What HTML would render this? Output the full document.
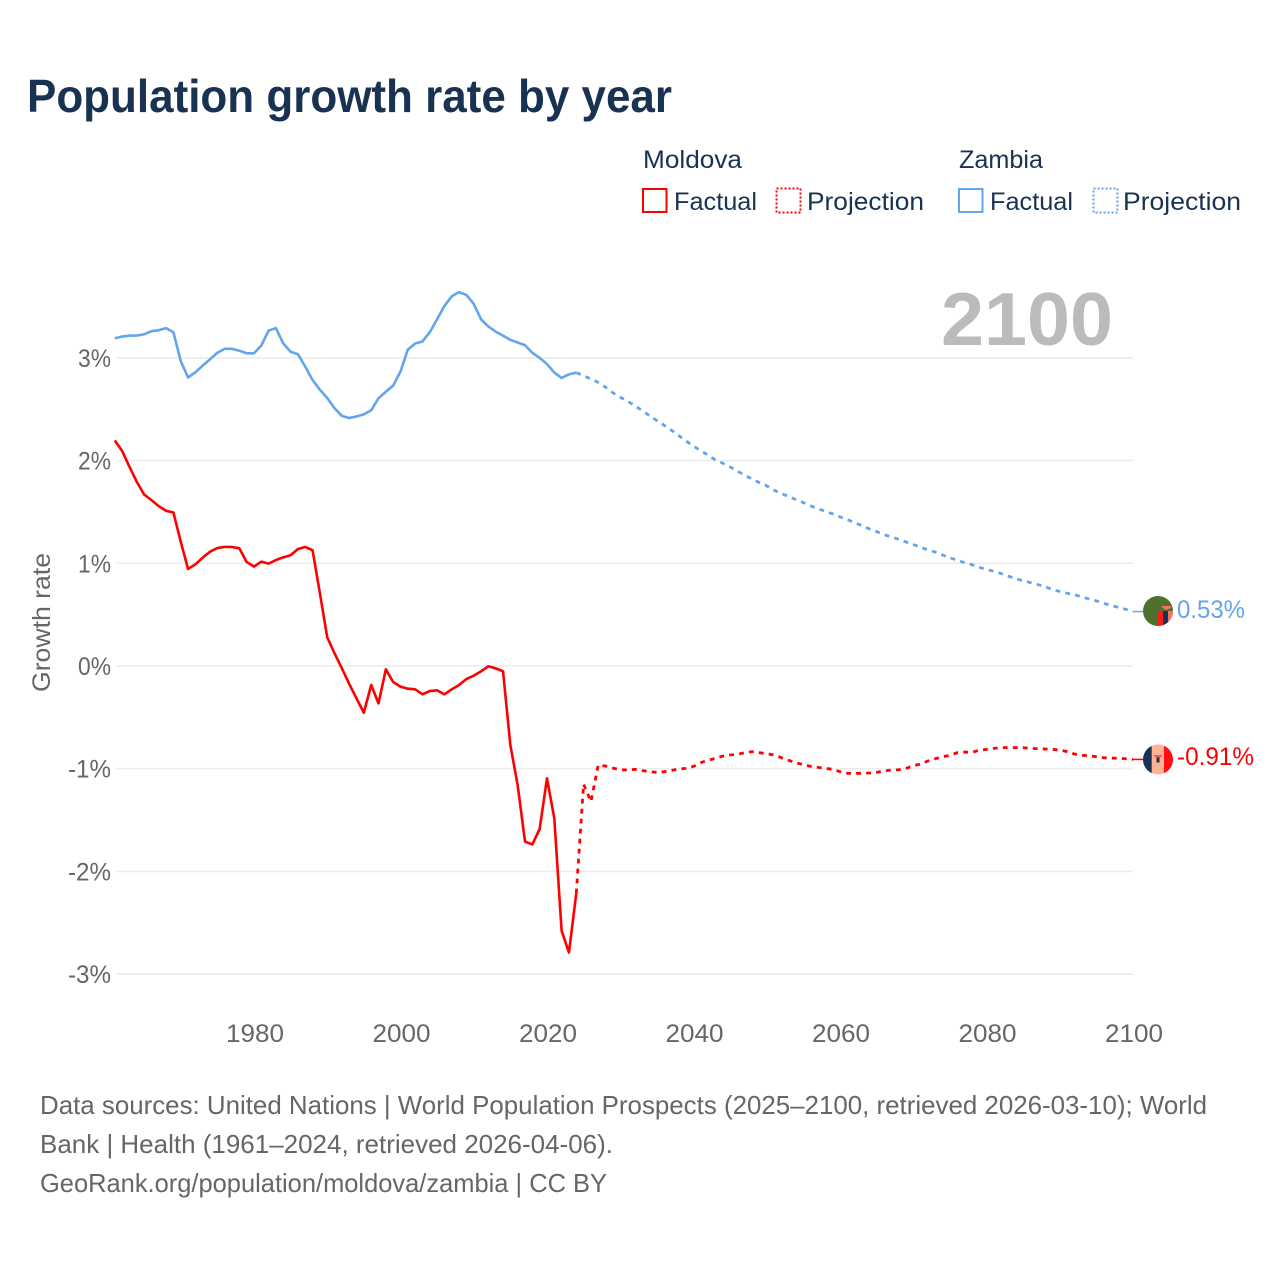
<!DOCTYPE html>
<html lang="en">
<head>
<meta charset="utf-8">
<title>Population growth rate by year</title>
<style>
html,body{margin:0;padding:0;background:#fff;}
svg{display:block;}
text{font-family:"Liberation Sans",sans-serif;}
</style>
</head>
<body>
<svg id="chart" xmlns="http://www.w3.org/2000/svg" width="1280" height="1280" viewBox="0 0 1280 1280">
  <defs>
    <clipPath id="clip-zambia"><circle cx="1158" cy="611" r="15"/></clipPath>
    <clipPath id="clip-moldova"><circle cx="1158" cy="759.5" r="15"/></clipPath>
  </defs>
  <rect x="0" y="0" width="1280" height="1280" fill="#fff"/>
  <text x="27" y="112" font-size="46" font-weight="700" fill="#1a3252" textLength="645" lengthAdjust="spacingAndGlyphs">Population growth rate by year</text>

  <g font-size="25" fill="#1a3252">
    <text x="643" y="168" textLength="99" lengthAdjust="spacingAndGlyphs">Moldova</text>
    <text x="959" y="168" textLength="84" lengthAdjust="spacingAndGlyphs">Zambia</text>
    <g>
      <rect x="643" y="189" width="23.5" height="23" fill="none" stroke="#ff0000" stroke-width="2"/>
      <text x="674" y="210" textLength="83" lengthAdjust="spacingAndGlyphs">Factual</text>
    </g>
    <g>
      <rect x="776.5" y="188.5" width="24" height="24" fill="none" stroke="#ff0000" stroke-width="2" stroke-dasharray="2 2"/>
      <text x="807" y="210" textLength="117" lengthAdjust="spacingAndGlyphs">Projection</text>
    </g>
    <g>
      <rect x="959" y="189" width="23.5" height="23" fill="none" stroke="#63a5ec" stroke-width="2"/>
      <text x="990" y="210" textLength="83" lengthAdjust="spacingAndGlyphs">Factual</text>
    </g>
    <g>
      <rect x="1093.5" y="188.5" width="24" height="24" fill="none" stroke="#63a5ec" stroke-width="2" stroke-dasharray="2 2"/>
      <text x="1123" y="210" textLength="118" lengthAdjust="spacingAndGlyphs">Projection</text>
    </g>
  </g>

  <text x="941" y="345" font-size="75" font-weight="700" fill="#bbbbbb" textLength="172" lengthAdjust="spacingAndGlyphs">2100</text>

  <g id="grid"></g>
  <g id="y-ticks"></g>
  <g id="x-ticks"></g>
  <text transform="translate(50,622.5) rotate(-90)" text-anchor="middle" font-size="25" fill="#666666" textLength="139" lengthAdjust="spacingAndGlyphs">Growth rate</text>
  <g id="series"></g>

  <g clip-path="url(#clip-zambia)">
    <rect x="1143" y="596" width="30" height="30" fill="#4f6f2f"/>
    <rect x="1157.7" y="611" width="5.3" height="16" fill="#ff1a1a"/>
    <rect x="1163" y="611" width="5" height="16" fill="#1a3252"/>
    <rect x="1168" y="611" width="5" height="16" fill="#ff7060"/>
    <path d="M1161 606 h11 l-3.5 3.5 h-4 z" fill="#ff7060"/>
  </g>
  <g clip-path="url(#clip-moldova)">
    <rect x="1143" y="744" width="9" height="31" fill="#1a3252"/>
    <rect x="1151.7" y="744" width="12.6" height="31" fill="#ffb394"/>
    <rect x="1164" y="744" width="9" height="31" fill="#ff0f0f"/>
    <path d="M1153 755 h10 l-3 3 h-4 z" fill="#ff5a50"/>
    <rect x="1156.5" y="757.5" width="3" height="5" fill="#1a3252"/>
  </g>
  <text id="label-zambia" x="1177" y="618" font-size="25" fill="#63a5ec" textLength="68" lengthAdjust="spacingAndGlyphs"></text>
  <text id="label-moldova" x="1177" y="765" font-size="25" fill="#ff0000" textLength="77" lengthAdjust="spacingAndGlyphs"></text>

  <g font-size="26" fill="#666666">
    <text x="40" y="1114" textLength="1167" lengthAdjust="spacingAndGlyphs">Data sources: United Nations | World Population Prospects (2025–2100, retrieved 2026-03-10); World</text>
    <text x="40" y="1153" textLength="573" lengthAdjust="spacingAndGlyphs">Bank | Health (1961–2024, retrieved 2026-04-06).</text>
    <text x="40" y="1192" textLength="567" lengthAdjust="spacingAndGlyphs">GeoRank.org/population/moldova/zambia | CC BY</text>
  </g>
</svg>
<script>
const yTicks = [3, 2, 1, 0, -1, -2, -3];
const xTicks = [1980, 2000, 2020, 2040, 2060, 2080, 2100];
const factualStartYear = 1961;
const projectionStartYear = 2024;

const moldovaFactual = [2.197,2.094,1.94,1.793,1.67,1.615,1.557,1.511,1.495,1.21,0.945,0.99,1.055,1.113,1.149,1.159,1.159,1.146,1.013,0.968,1.016,0.997,1.032,1.058,1.078,1.139,1.159,1.127,0.708,0.279,0.123,-0.023,-0.175,-0.315,-0.455,-0.185,-0.364,-0.032,-0.156,-0.201,-0.221,-0.227,-0.276,-0.244,-0.237,-0.276,-0.227,-0.185,-0.127,-0.094,-0.052,-0.003,-0.023,-0.052,-0.77,-1.16,-1.71,-1.737,-1.588,-1.094,-1.484,-2.58,-2.79,-2.214];
const moldovaProjection = [-2.214,-1.15,-1.32,-0.964,-0.974,-0.994,-1.01,-1.013,-1.006,-1.019,-1.029,-1.036,-1.029,-1.016,-1.003,-0.997,-0.977,-0.942,-0.916,-0.9,-0.877,-0.867,-0.86,-0.844,-0.834,-0.844,-0.854,-0.867,-0.893,-0.919,-0.942,-0.961,-0.977,-0.987,-0.997,-1.006,-1.029,-1.045,-1.045,-1.045,-1.042,-1.036,-1.023,-1.013,-1.01,-0.997,-0.971,-0.955,-0.925,-0.903,-0.883,-0.87,-0.844,-0.838,-0.841,-0.821,-0.812,-0.802,-0.795,-0.795,-0.795,-0.795,-0.802,-0.805,-0.808,-0.812,-0.818,-0.834,-0.857,-0.87,-0.873,-0.883,-0.893,-0.896,-0.899,-0.903,-0.91];
const zambiaFactual = [3.19,3.208,3.217,3.217,3.23,3.26,3.27,3.29,3.25,2.97,2.81,2.86,2.925,2.987,3.05,3.088,3.088,3.07,3.045,3.045,3.12,3.266,3.29,3.14,3.06,3.036,2.915,2.785,2.69,2.61,2.51,2.435,2.415,2.43,2.45,2.49,2.607,2.67,2.73,2.867,3.08,3.14,3.16,3.25,3.376,3.506,3.6,3.64,3.613,3.526,3.376,3.305,3.256,3.217,3.175,3.15,3.123,3.05,3.0,2.94,2.857,2.805,2.84,2.857];
const zambiaProjection = [2.857,2.825,2.796,2.76,2.715,2.66,2.617,2.578,2.535,2.487,2.438,2.39,2.344,2.296,2.243,2.19,2.14,2.097,2.052,2.007,1.974,1.939,1.897,1.858,1.822,1.786,1.754,1.712,1.679,1.65,1.62,1.591,1.559,1.53,1.507,1.481,1.452,1.426,1.396,1.367,1.335,1.309,1.28,1.257,1.235,1.208,1.182,1.157,1.13,1.11,1.08,1.055,1.03,1.007,0.987,0.962,0.939,0.923,0.9,0.874,0.851,0.829,0.812,0.793,0.773,0.744,0.725,0.709,0.695,0.673,0.653,0.634,0.611,0.588,0.572,0.552,0.53];

const SVG_NS = 'http://www.w3.org/2000/svg';
function xScale(year) { return 114.8 + (year - 1961) * 7.325; }
function xLabelScale(year) { return xScale(year) + 1; }
function yScale(value) { return 666 - value * 102.7; }

function svgEl(tag, attrs) {
  const el = document.createElementNS(SVG_NS, tag);
  for (const key in attrs) { el.setAttribute(key, attrs[key]); }
  return el;
}
function linePath(values, startYear) {
  return values.map(function (v, i) {
    return (i ? 'L' : 'M') + xScale(startYear + i).toFixed(2) + ' ' + yScale(v).toFixed(2);
  }).join(' ');
}

const gridGroup = document.getElementById('grid');
const yGroup = document.getElementById('y-ticks');
const xGroup = document.getElementById('x-ticks');
const seriesGroup = document.getElementById('series');

yTicks.forEach(function (t) {
  const line = svgEl('line', { x1: 116, x2: 1133, y1: yScale(t), y2: yScale(t), stroke: '#ececec', 'stroke-width': 1.6 });
  
  
  gridGroup.appendChild(line);

  const label = svgEl('text', { x: 111, y: yScale(t) + 9, 'text-anchor': 'end', 'font-size': 25, fill: '#666666', textLength: t < 0 ? 43 : 33, lengthAdjust: 'spacingAndGlyphs' });
  
  
  label.textContent = t + '%';
  yGroup.appendChild(label);
});

xTicks.forEach(function (t) {
  const label = svgEl('text', { x: xLabelScale(t), y: 1042, 'text-anchor': 'middle', 'font-size': 25, fill: '#666666', textLength: 58, lengthAdjust: 'spacingAndGlyphs' });
  
  
  label.textContent = String(t);
  xGroup.appendChild(label);
});

function drawSeries(name, color, factual, projection) {
  const solid = svgEl('path', { d: linePath(factual, factualStartYear), fill: 'none', stroke: color, 'stroke-width': 2.6, 'stroke-linejoin': 'round' });
  
  
  seriesGroup.appendChild(solid);

  const dashed = svgEl('path', { d: linePath(projection, projectionStartYear), fill: 'none', stroke: color, 'stroke-width': 2.8, 'stroke-dasharray': '4.8 5.2', 'stroke-linejoin': 'round' });
  
  
  seriesGroup.appendChild(dashed);

  const last = projection[projection.length - 1];
  const connector = svgEl('line', { x1: xScale(2100), x2: 1143, y1: yScale(last), y2: yScale(last), stroke: color, 'stroke-width': 1.5 });
  
  
  seriesGroup.appendChild(connector);

  document.getElementById('label-' + name).textContent = last.toFixed(2) + '%';
}
drawSeries('moldova', '#ff0000', moldovaFactual, moldovaProjection);
drawSeries('zambia', '#63a5ec', zambiaFactual, zambiaProjection);
</script>
</body>
</html>
